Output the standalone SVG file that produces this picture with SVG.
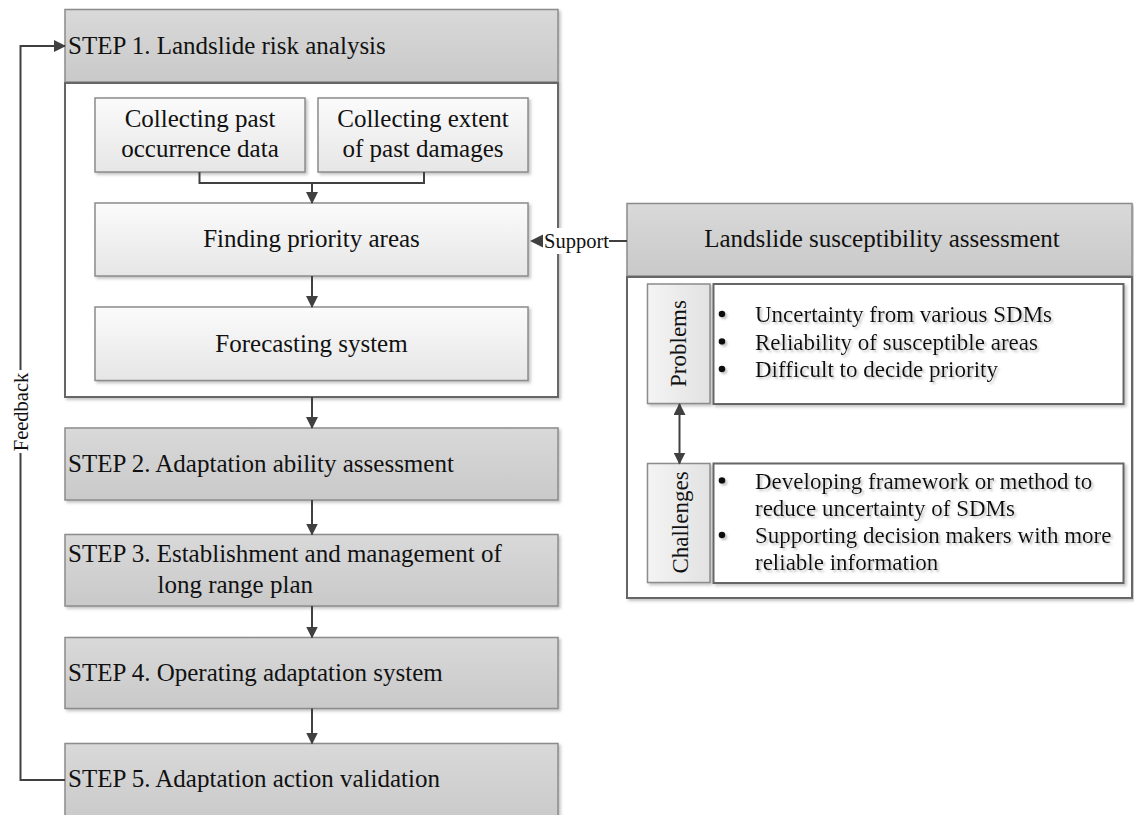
<svg xmlns="http://www.w3.org/2000/svg" width="1134" height="815" viewBox="0 0 1134 815">
<defs>
  <linearGradient id="gStep" x1="0" y1="0" x2="0" y2="1">
    <stop offset="0" stop-color="#d9d9d9"/>
    <stop offset="1" stop-color="#c9c9c9"/>
  </linearGradient>
  <linearGradient id="gInner" x1="0" y1="0" x2="0" y2="1">
    <stop offset="0" stop-color="#fbfbfb"/>
    <stop offset="1" stop-color="#e6e6e6"/>
  </linearGradient>
  <linearGradient id="gLabel" x1="0" y1="0" x2="1" y2="0">
    <stop offset="0" stop-color="#f4f4f4"/>
    <stop offset="1" stop-color="#e2e2e2"/>
  </linearGradient>
  <filter id="sh" x="-5%" y="-5%" width="110%" height="115%">
    <feDropShadow dx="2" dy="2" stdDeviation="1.5" flood-color="#888" flood-opacity="0.5"/>
  </filter>
  <filter id="tsh" x="-5%" y="-20%" width="110%" height="140%">
    <feDropShadow dx="2" dy="2" stdDeviation="0.8" flood-color="#aaa" flood-opacity="0.7"/>
  </filter>
  <marker id="ah" viewBox="0 0 12 12" refX="11" refY="6" markerWidth="12" markerHeight="12" markerUnits="userSpaceOnUse" orient="auto-start-reverse">
    <path d="M0,0 L12,6 L0,12 z" fill="#404040"/>
  </marker>
</defs>
<style>
  text { font-family: "Liberation Serif", "Times New Roman", serif; fill: #111; }
  .t25 { font-size: 25px; }
  .t23 { font-size: 23px; }
  .t20 { font-size: 20.5px; }
  .mid { text-anchor: middle; }
  .step { fill: url(#gStep); stroke: #8c8c8c; stroke-width: 1.5; }
  .inner { fill: url(#gInner); stroke: #8c8c8c; stroke-width: 1.5; }
  .label { fill: url(#gLabel); stroke: #8c8c8c; stroke-width: 1.5; }
  .cont { fill: #ffffff; stroke: #666666; stroke-width: 2; }
  .bbox { fill: #ffffff; stroke: #666666; stroke-width: 2; }
  .conn { fill: none; stroke: #404040; stroke-width: 2; }
</style>
<rect width="1134" height="815" fill="#ffffff"/>

<!-- Left process -->
<g id="step1">
  <rect class="step" x="65" y="9.5" width="493" height="72.5" filter="url(#sh)"/>
  <text class="t25" x="68" y="53.5">STEP 1. Landslide risk analysis</text>
</g>
<g id="step1-container">
  <rect class="cont" x="65" y="83" width="493" height="314" filter="url(#sh)"/>
</g>
<g id="collect-past">
  <rect class="inner" x="95" y="98" width="210" height="74" filter="url(#sh)"/>
  <text class="t25 mid" x="200" y="127">Collecting past</text>
  <text class="t25 mid" x="200" y="157">occurrence data</text>
</g>
<g id="collect-extent">
  <rect class="inner" x="318" y="98" width="210" height="74" filter="url(#sh)"/>
  <text class="t25 mid" x="423" y="127">Collecting extent</text>
  <text class="t25 mid" x="423" y="157">of past damages</text>
</g>
<g id="finding">
  <rect class="inner" x="95" y="203" width="433" height="73" filter="url(#sh)"/>
  <text class="t25 mid" x="311.5" y="247">Finding priority areas</text>
</g>
<g id="forecasting">
  <rect class="inner" x="95" y="307" width="433" height="73.5" filter="url(#sh)"/>
  <text class="t25 mid" x="311.5" y="352">Forecasting system</text>
</g>
<g id="step2">
  <rect class="step" x="65" y="428" width="493" height="72" filter="url(#sh)"/>
  <text class="t25" x="68" y="472">STEP 2. Adaptation ability assessment</text>
</g>
<g id="step3">
  <rect class="step" x="65" y="534.5" width="493" height="71.5" filter="url(#sh)"/>
  <text class="t25" x="68" y="562">STEP 3. Establishment and management of</text>
  <text class="t25" x="157.5" y="593">long range plan</text>
</g>
<g id="step4">
  <rect class="step" x="65" y="637.5" width="493" height="71" filter="url(#sh)"/>
  <text class="t25" x="68" y="681">STEP 4. Operating adaptation system</text>
</g>
<g id="step5">
  <rect class="step" x="65" y="743.5" width="493" height="80" filter="url(#sh)"/>
  <text class="t25" x="68" y="787">STEP 5. Adaptation action validation</text>
</g>

<!-- Right panel -->
<g id="lsa-header">
  <rect class="step" x="627" y="203.5" width="505" height="72.5" filter="url(#sh)"/>
  <text class="t25 mid" x="882" y="247">Landslide susceptibility assessment</text>
</g>
<g id="lsa-container">
  <rect class="cont" x="627" y="277" width="505" height="321" filter="url(#sh)"/>
</g>
<g id="problems-label">
  <rect class="label" x="647.5" y="284" width="62.5" height="119.5" filter="url(#sh)"/>
  <text class="t23 mid" transform="translate(686,343.5) rotate(-90)">Problems</text>
</g>
<g id="problems-list">
  <rect class="bbox" x="713.5" y="284" width="410" height="120" filter="url(#sh)"/>
  <g filter="url(#tsh)">
    <circle cx="722" cy="314" r="3.3" fill="#111"/>
    <circle cx="722" cy="341.5" r="3.3" fill="#111"/>
    <circle cx="722" cy="369" r="3.3" fill="#111"/>
    <text class="t23" x="755" y="322">Uncertainty from various SDMs</text>
    <text class="t23" x="755" y="349.5">Reliability of susceptible areas</text>
    <text class="t23" x="755" y="377">Difficult to decide priority</text>
  </g>
</g>
<g id="challenges-label">
  <rect class="label" x="647.5" y="463.5" width="62.5" height="119" filter="url(#sh)"/>
  <text class="t23 mid" transform="translate(688,522.5) rotate(-90)">Challenges</text>
</g>
<g id="challenges-list">
  <rect class="bbox" x="713.5" y="463.5" width="410" height="119.5" filter="url(#sh)"/>
  <g filter="url(#tsh)">
    <circle cx="722" cy="480.5" r="3.3" fill="#111"/>
    <circle cx="722" cy="535" r="3.3" fill="#111"/>
    <text class="t23" x="755" y="488.5">Developing framework or method to</text>
    <text class="t23" x="755" y="515.5">reduce uncertainty of SDMs</text>
    <text class="t23" x="755" y="543">Supporting decision makers with more</text>
    <text class="t23" x="755" y="570">reliable information</text>
  </g>
</g>

<!-- Connectors -->
<g id="connectors">
  <path class="conn" d="M199.5,172 V183 H424 V172"/>
  <path class="conn" d="M312,183 V203" marker-end="url(#ah)"/>
  <path class="conn" d="M312,276 V307" marker-end="url(#ah)"/>
  <path class="conn" d="M312,397 V428" marker-end="url(#ah)"/>
  <path class="conn" d="M312,500 V534.5" marker-end="url(#ah)"/>
  <path class="conn" d="M312,606 V637.5" marker-end="url(#ah)"/>
  <path class="conn" d="M312,708.5 V743.5" marker-end="url(#ah)"/>
  <path class="conn" d="M65,780 H20.5 V46 H65" marker-end="url(#ah)"/>
  <rect x="8" y="370" width="25" height="83" fill="#ffffff"/>
  <text class="t20 mid" transform="translate(28,412) rotate(-90)">Feedback</text>
  <path class="conn" d="M627,241 H609"/>
  <rect x="543" y="228" width="66" height="26" fill="#ffffff"/>
  <text class="t20" x="544" y="248">Support</text>
  <polygon points="530,241 543,234.5 543,247.5" fill="#404040"/>
  <path class="conn" d="M679.5,404 V463.5" marker-start="url(#ah)" marker-end="url(#ah)"/>
</g>
</svg>
